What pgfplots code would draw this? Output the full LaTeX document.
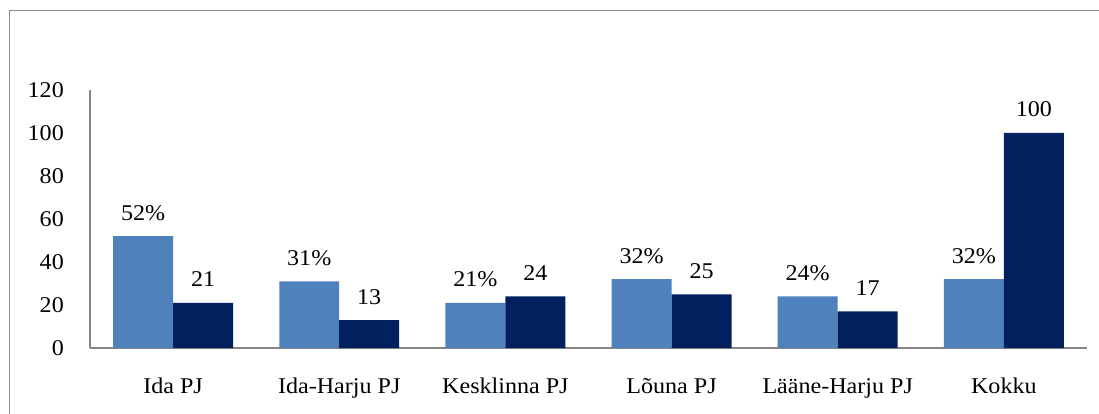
\documentclass[border=0pt]{standalone}
\usepackage{fontspec}
\setmainfont[FakeStretch=1.07]{Liberation Serif}
\usepackage{pgfplots}
\pgfplotsset{compat=1.18}
\definecolor{lightbar}{HTML}{4F81BD}
\definecolor{darkbar}{HTML}{03205E}
\definecolor{axgray}{HTML}{868686}
\definecolor{framegray}{HTML}{8C8C8C}
\begin{document}
\begin{tikzpicture}[x=1bp,y=1bp]
\useasboundingbox (0,0) rectangle (1099,413);
\draw[framegray, line width=1.5bp] (9.5,-5) -- (9.5,402.5) -- (1104,402.5);
\begin{axis}[
  at={(90bp,65bp)}, anchor=south west,
  scale only axis, width=997bp, height=258bp,
  xmin=-0.5, xmax=5.5, ymin=0, ymax=120,
  ytick={0,20,...,120},
  xtick={0,1,2,3,4,5},
  xticklabels={Ida PJ, Ida-Harju PJ, Kesklinna PJ, L\~ouna PJ, L\"a\"ane-Harju PJ, Kokku},
  axis x line*=bottom, axis y line*=left,
  axis line style={axgray, line width=1.2bp, -},
  major tick length=0pt,
  /pgf/number format/assume math mode=true,
  tick label style={font=\fontsize{22.5bp}{26bp}\selectfont, inner sep=0pt},
  yticklabel style={anchor=east, xshift=-26bp},
  xticklabel style={anchor=north, text height=15bp, text depth=5bp, yshift=-30bp},
  ybar=0pt, bar width=0.361,
  every node near coord/.append style={font=\fontsize{22.5bp}{26bp}\selectfont, inner sep=0pt, anchor=base, yshift=16bp, text=black},
]
\addplot[fill=lightbar, draw=none, nodes near coords={\pgfmathprintnumber{\pgfplotspointmeta}\%}] coordinates {(0,52) (1,31) (2,21) (3,32) (4,24) (5,32)};
\addplot[fill=darkbar, draw=none, nodes near coords] coordinates {(0,21) (1,13) (2,24) (3,25) (4,17) (5,100)};
\end{axis}
\end{tikzpicture}
\end{document}
